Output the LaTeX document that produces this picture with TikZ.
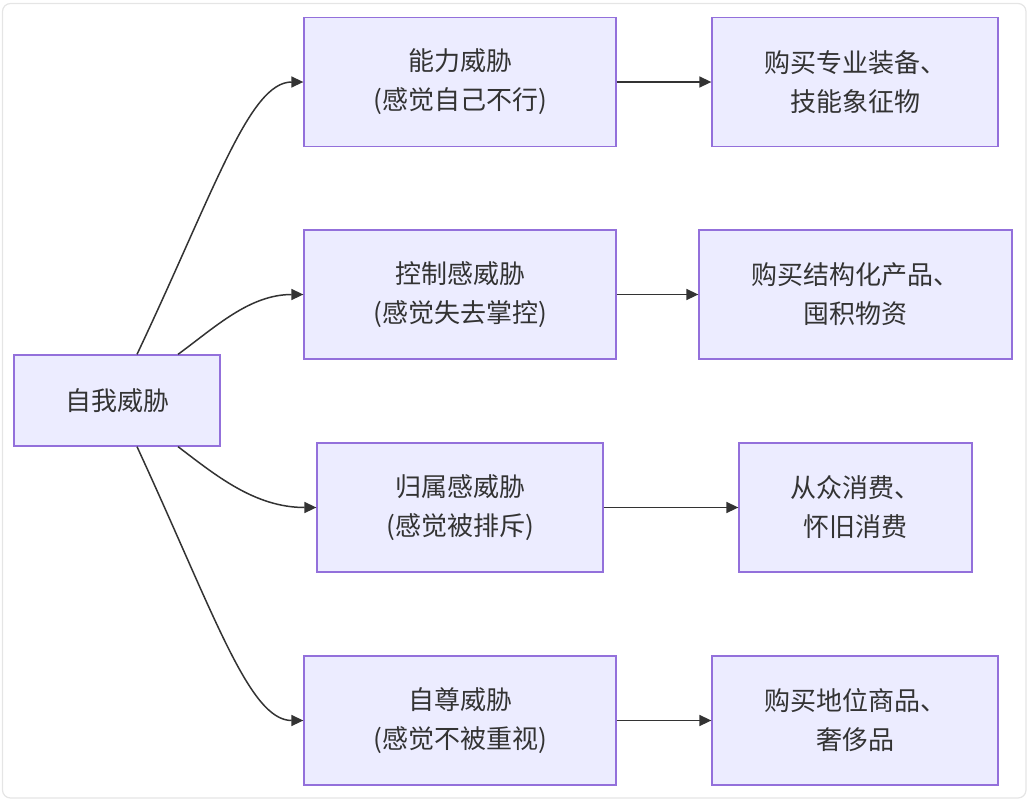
\documentclass[tikz,border=0pt]{standalone}
\usepackage{fontspec}
\newfontfamily\cjk{Noto Sans CJK SC}
\usetikzlibrary{arrows.meta}
\definecolor{boxfill}{HTML}{ECECFF}
\definecolor{boxline}{HTML}{9370DB}
\definecolor{inkgray}{HTML}{333333}
\begin{document}
\begin{tikzpicture}[x=1pt,y=-1pt,
  box/.style={rectangle,draw=boxline,fill=boxfill,line width=1.3pt,align=center,text=inkgray,
    font=\cjk\fontsize{26}{39}\selectfont,minimum height=129pt},
  link/.style={draw=inkgray,line width=1.5pt,-{Triangle[length=12pt,width=11pt]}}]
\useasboundingbox (0,0) rectangle (1031,806);
\draw[gray!20,line width=1.2pt,rounded corners=8pt] (2.5,3.5) rectangle (1026,798);
% source node
\node[box,minimum width=206pt,minimum height=91pt] (A) at (117,400.5) {自我威胁};
% threats
\node[box,minimum width=312pt] (B1) at (460,82) {能力威胁\\(感觉自己不行)};
\node[box,minimum width=312pt] (B2) at (460,294.5) {控制感威胁\\(感觉失去掌控)};
\node[box,minimum width=286pt] (B3) at (460,507.5) {归属感威胁\\(感觉被排斥)};
\node[box,minimum width=312pt] (B4) at (460,720.5) {自尊威胁\\(感觉不被重视)};
% consumption
\node[box,minimum width=286pt] (C1) at (855,82) {购买专业装备、\\技能象征物};
\node[box,minimum width=313pt] (C2) at (855.5,294.5) {购买结构化产品、\\囤积物资};
\node[box,minimum width=233pt] (C3) at (855.5,507.5) {从众消费、\\怀旧消费};
\node[box,minimum width=286pt] (C4) at (855,720.5) {购买地位商品、\\奢侈品};
\draw[link] ([xshift=20pt]A.north) .. controls +(78,-165) and +(-54,0) .. (B1.west);
\draw[link] ([xshift=61pt]A.north) .. controls +(37,-27) and +(-54,0) .. (B2.west);
\draw[link] ([xshift=61pt]A.south) .. controls +(37,28) and +(-62,0) .. (B3.west);
\draw[link] ([xshift=20pt]A.south) .. controls +(78,169) and +(-54,0) .. (B4.west);
\draw[link] (B1.east) -- (C1.west);
\draw[link] (B2.east) -- (C2.west);
\draw[link] (B3.east) -- (C3.west);
\draw[link] (B4.east) -- (C4.west);
\end{tikzpicture}
\end{document}
